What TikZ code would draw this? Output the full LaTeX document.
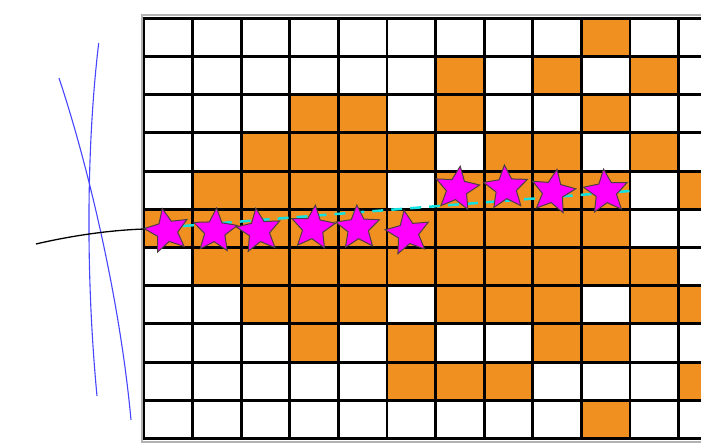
\documentclass[tikz,border=0pt]{standalone}
\usetikzlibrary{shapes.geometric}
\definecolor{cellorange}{RGB}{240,144,32}
\definecolor{starmag}{RGB}{255,0,255}
\definecolor{pathcyan}{RGB}{20,225,225}
\definecolor{lineblue}{RGB}{70,70,255}
\begin{document}
\begin{tikzpicture}[x=1pt,y=-1pt,
  cell/.style={fill=cellorange},
  gridline/.style={line width=2.9pt,black},
  frameline/.style={line width=2pt,black!30},
  starnode/.style={star,star points=5,star point ratio=2.15,minimum size=46pt,fill=starmag,draw=black!80!magenta,line width=1pt,inner sep=0pt},
  bluecurve/.style={lineblue,line width=1.1pt},
  pathline/.style={pathcyan,line width=2.5pt,dash pattern=on 11pt off 8pt},
  tailline/.style={black,line width=1.3pt}]
\useasboundingbox (0,0) rectangle (701,445);
\clip (0,0) rectangle (701,445);
\fill[white] (0,0) rectangle (701,445);
% orange cells
\foreach \r/\cols in {0/{9},1/{6,8,10},2/{3,4,6,9},3/{2,3,4,5,7,8,10},4/{1,2,3,4,6,7,8,9,11},5/{0,1,2,3,4,5,6,7,8,9},6/{1,2,3,4,5,6,7,8,9,10},7/{2,3,4,6,7,8,10,11},8/{3,5,8,9},9/{5,6,7,11},10/{9}}
  \foreach \c in \cols
    \fill[cell] (144+48.6*\c,18.3+38.2*\r) rectangle ++(48.6,38.2);
% frame
\draw[frameline] (760,15.2) -- (141.5,15.2) -- (141.5,441.6) -- (760,441.6);
% grid
\foreach \c in {0,...,12}
  \draw[gridline] (144+48.6*\c,18.3) -- (144+48.6*\c,438.5);
\foreach \r in {0,...,11}
  \draw[gridline] (142.6,18.3+38.2*\r) -- (760,18.3+38.2*\r);
% blue curves
\draw[bluecurve] (98.7,43) .. controls (86,150) and (86,280) .. (97,396);
\draw[bluecurve] (59,78) .. controls (88,165) and (120,300) .. (131,420);
% black tail and cyan path
\coordinate (tailstart) at (36,244);
\coordinate (pathstart) at (145,229);
\coordinate (pathend) at (630,191);
\draw[tailline] (tailstart) .. controls (70,236) and (110,230) .. (pathstart);
\draw[pathline] (pathstart) -- (pathend);
% stars
\node[starnode,rotate=12] (s1) at (167,231) {};
\node[starnode,rotate=-4] (s2) at (215,231) {};
\node[starnode,rotate=8] (s3) at (259,231) {};
\node[starnode,rotate=-6] (s4) at (313,228) {};
\node[starnode,rotate=3] (s5) at (358,228) {};
\node[starnode,rotate=10] (s6) at (408,233) {};
\node[starnode,rotate=-8] (s7) at (457,189) {};
\node[starnode,rotate=4] (s8) at (506,188) {};
\node[starnode,rotate=-10] (s9) at (553,192) {};
\node[starnode,rotate=6] (s10) at (606,192) {};
\end{tikzpicture}
\end{document}
